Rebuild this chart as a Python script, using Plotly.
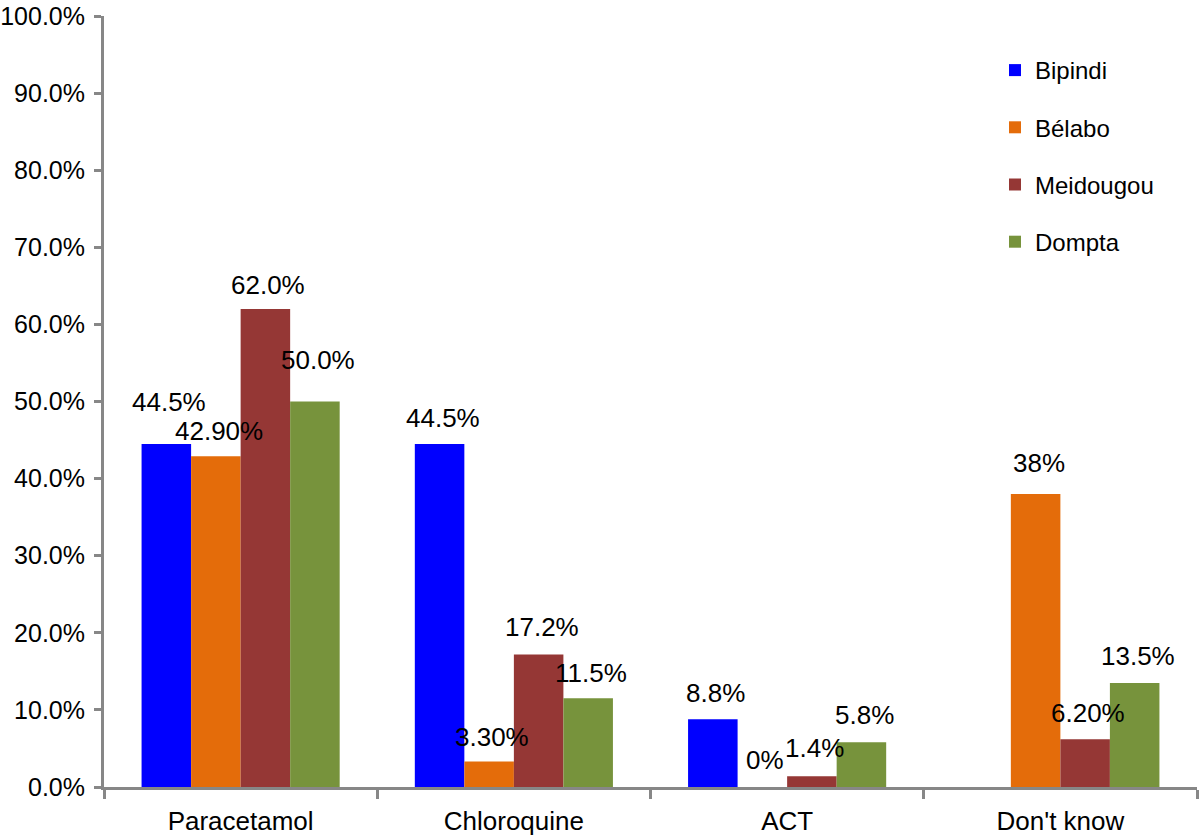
import plotly.graph_objects as go

categories = ["Paracetamol", "Chloroquine", "ACT", "Don't know"]
series_names = ["Bipindi", "Bélabo", "Meidougou", "Dompta"]
bipindi = [44.5, 44.5, 8.8, 0]
belabo = [42.9, 3.3, 0, 38]
meidougou = [62.0, 17.2, 1.4, 6.2]
dompta = [50.0, 11.5, 5.8, 13.5]
bipindi_labels = ["44.5%", "44.5%", "8.8%", ""]
belabo_labels = ["42.90%", "3.30%", "0%", "38%"]
meidougou_labels = ["62.0%", "17.2%", "1.4%", "6.20%"]
dompta_labels = ["50.0%", "11.5%", "5.8%", "13.5%"]
y_tick_values = [0, 10, 20, 30, 40, 50, 60, 70, 80, 90, 100]
y_tick_labels = ["0.0%", "10.0%", "20.0%", "30.0%", "40.0%", "50.0%",
                 "60.0%", "70.0%", "80.0%", "90.0%", "100.0%"]

# styles
colors = ["#0000FF", "#E46C0A", "#953735", "#77933C"]
label_lift = [[42, 26, 26, 26], [25, 25, 27, 31], [24, 27, 28, 26], [42, 25, 27, 27]]

values = [bipindi, belabo, meidougou, dompta]
labels = [bipindi_labels, belabo_labels, meidougou_labels, dompta_labels]

W, H = 1200, 836
ML, MR, MT, MB = 104, 3, 16, 49
BARGAP = 0.275
FONT = "Liberation Sans, Arial, Helvetica, sans-serif"
AXIS_COLOR = "#878787"
FS = 26

fig = go.Figure()
for i, name in enumerate(series_names):
    fig.add_trace(go.Bar(
        x=categories, y=values[i], name=name,
        marker=dict(color=colors[i], line=dict(width=0)),
        legendgroup=name,
    ))

plot_w = W - ML - MR
plot_h = H - MT - MB
bar_px = plot_w / len(categories) * (1 - BARGAP) / len(series_names)
annotations = []
for i in range(len(series_names)):
    for j, cat in enumerate(categories):
        if labels[i][j] == "":
            continue
        annotations.append(dict(
            x=cat, y=values[i][j], xref="x", yref="y",
            text=labels[i][j], showarrow=False,
            xshift=(i - 1.5) * bar_px + 3, yshift=label_lift[i][j],
            font=dict(size=FS, color="black", family=FONT),
            xanchor="center", yanchor="middle",
        ))

fig.update_layout(
    width=W, height=H,
    margin=dict(l=ML, r=MR, t=MT, b=MB, autoexpand=False),
    paper_bgcolor="white", plot_bgcolor="white",
    barmode="group", bargap=BARGAP, bargroupgap=0,
    font=dict(family=FONT, size=FS, color="black"),
    showlegend=True,
    legend=dict(
        x=(995 - ML) / plot_w, y=1 - (48 - MT) / plot_h,
        xanchor="left", yanchor="top",
        font=dict(size=24, family=FONT, color="black"),
        traceorder="grouped", tracegroupgap=23,
        bgcolor="rgba(0,0,0,0)",
    ),
    annotations=annotations,
)
fig.update_xaxes(
    automargin=False,
    showline=True, linecolor=AXIS_COLOR, linewidth=3,
    ticks="outside", tickson="boundaries", ticklen=9, tickwidth=3, tickcolor=AXIS_COLOR,
    ticklabelstandoff=9,
    tickfont=dict(size=FS, family=FONT, color="black"),
    showgrid=False, zeroline=False,
)
fig.update_yaxes(
    automargin=False, ticklabeloverflow="allow",
    range=[0, 100], tickvals=y_tick_values, ticktext=y_tick_labels,
    showline=True, linecolor=AXIS_COLOR, linewidth=3,
    ticks="outside", ticklen=7, tickwidth=3, tickcolor=AXIS_COLOR,
    ticklabelstandoff=4,
    tickfont=dict(size=25, family=FONT, color="black"),
    showgrid=False, zeroline=False,
)
fig.write_html("out.html", config={"displayModeBar": False},
               post_script="document.body.style.margin='0px';")
